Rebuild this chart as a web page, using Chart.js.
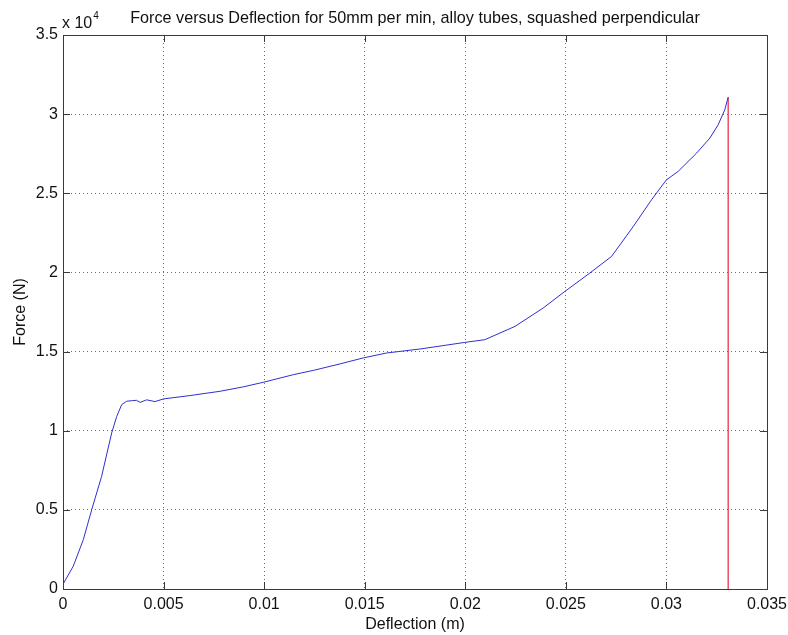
<!DOCTYPE html>
<html>
<head>
<meta charset="utf-8">
<title>Force versus Deflection</title>
<script src="https://cdn.jsdelivr.net/npm/chart.js@4.4.1/dist/chart.umd.min.js"></script>
<style>
  html, body { margin: 0; padding: 0; background: #fff; }
  #wrap { width: 788px; height: 635px; position: relative; }
</style>
</head>
<body>
<div id="wrap"><canvas id="c" width="788" height="635"></canvas></div>
<script>
// Measured deflection (m) and force (N) for the squashed alloy tube
const deflection = [0, 0.00051, 0.00101, 0.00143, 0.00192, 0.00242, 0.00267, 0.00292, 0.00316, 0.00345,
  0.00366, 0.00383, 0.00416, 0.00457, 0.005, 0.00631, 0.0078, 0.00896, 0.00996, 0.01145,
  0.01244, 0.01377, 0.01493, 0.01609, 0.01675, 0.01774, 0.01998, 0.02097, 0.02247, 0.02387,
  0.02495, 0.02619, 0.02727, 0.02835, 0.02926, 0.03, 0.03058, 0.0315, 0.03216, 0.03257,
  0.0329, 0.03307];
const force = [300, 1440, 3120, 5020, 7120, 9860, 10900, 11650, 11860, 11900,
  11920, 11790, 11950, 11840, 12010, 12220, 12490, 12770, 13060, 13540,
  13810, 14220, 14600, 14910, 15010, 15160, 15580, 15750, 16590, 17750,
  18800, 19960, 21010, 22900, 24590, 25850, 26380, 27540, 28490, 29320,
  30270, 31070];

// Failure marker: vertical line at the final deflection
const failureDeflection = [0.03307, 0.03307];
const failureForce = [0, 31070];

// Axis tick labels (force shown in units of 10^4 N)
const xTickLabels = ['0', '0.005', '0.01', '0.015', '0.02', '0.025', '0.03', '0.035'];
const yTickLabels = ['0', '0.5', '1', '1.5', '2', '2.5', '3', '3.5'];

const chartTitle = 'Force versus Deflection for 50mm per min, alloy tubes, squashed perpendicular';

const FONT = 'Arial, "Liberation Sans", Helvetica, sans-serif';
const TEXT = '#111';
const FRAME = '#3a3a3a';

const toPoints = (xs, ys) => xs.map((x, i) => ({ x: x, y: ys[i] }));

// Box around the plot with inward tick marks on all four sides,
// the title centred over the plot area, and the axis exponent label
const frame = {
  id: 'frame',
  beforeDatasetsDraw(chart) {
    const { ctx, chartArea: a, scales: { x, y } } = chart;
    const L = 7;
    ctx.save();
    ctx.strokeStyle = FRAME;
    ctx.lineWidth = 1;
    ctx.beginPath();
    x.ticks.forEach(t => {
      const px = Math.round(x.getPixelForValue(t.value)) + 0.5;
      ctx.moveTo(px, a.bottom); ctx.lineTo(px, a.bottom - L);
      ctx.moveTo(px, a.top); ctx.lineTo(px, a.top + L);
    });
    y.ticks.forEach(t => {
      const py = Math.round(y.getPixelForValue(t.value)) + 0.5;
      ctx.moveTo(a.left, py); ctx.lineTo(a.left + L, py);
      ctx.moveTo(a.right, py); ctx.lineTo(a.right - L, py);
    });
    ctx.stroke();
    ctx.strokeRect(Math.round(a.left) + 0.5, Math.round(a.top) + 0.5,
      Math.round(a.right - a.left), Math.round(a.bottom - a.top));
    ctx.restore();
  },
  afterDraw(chart) {
    const { ctx, chartArea: a } = chart;
    ctx.save();
    ctx.fillStyle = TEXT;
    ctx.textBaseline = 'alphabetic';
    ctx.font = '16.2px ' + FONT;
    ctx.textAlign = 'center';
    ctx.fillText(chartTitle, (a.left + a.right) / 2, 23);
    ctx.font = '16px ' + FONT;
    ctx.textAlign = 'left';
    ctx.fillText('x 10', a.left - 1, 28);
    const w = ctx.measureText('x 10').width;
    ctx.font = '10px ' + FONT;
    ctx.fillText('4', a.left - 1 + w + 1, 19);
    ctx.restore();
  }
};

new Chart(document.getElementById('c'), {
  type: 'scatter',
  data: {
    datasets: [
      {
        label: 'Force',
        data: toPoints(deflection, force),
        showLine: true,
        borderColor: '#2f2fd0',
        borderWidth: 1,
        pointRadius: 0,
        tension: 0,
        fill: false
      },
      {
        label: 'Failure',
        data: toPoints(failureDeflection, failureForce),
        showLine: true,
        borderColor: '#e8223e',
        borderWidth: 1.2,
        pointRadius: 0,
        fill: false
      }
    ]
  },
  plugins: [frame],
  options: {
    responsive: false,
    animation: false,
    events: [],
    layout: { padding: { left: 0, right: 21, top: 35, bottom: 0 } },
    plugins: {
      legend: { display: false },
      tooltip: { enabled: false },
      title: { display: false }
    },
    scales: {
      x: {
        type: 'linear',
        min: 0,
        max: 0.035,
        afterFit(s) { s.height = 46; s.paddingLeft = 0; s.paddingRight = 0; },
        ticks: {
          stepSize: 0.005,
          autoSkip: false,
          maxRotation: 0,
          padding: 6,
          color: TEXT,
          font: { family: FONT, size: 16 },
          callback: (v, i) => xTickLabels[i]
        },
        grid: { color: 'rgba(60,60,60,0.75)', lineWidth: 1, drawTicks: false },
        border: { display: false, dash: [1, 3] },
        title: {
          display: true,
          text: 'Deflection (m)',
          color: TEXT,
          font: { family: FONT, size: 16 },
          padding: { top: 0, bottom: 1 }
        }
      },
      y: {
        type: 'linear',
        min: 0,
        max: 35000,
        afterFit(s) { s.width = 63; s.paddingTop = 0; s.paddingBottom = 0; },
        ticks: {
          stepSize: 5000,
          autoSkip: false,
          padding: 5,
          color: TEXT,
          font: { family: FONT, size: 16 },
          callback: (v, i) => yTickLabels[i]
        },
        grid: { color: 'rgba(60,60,60,0.75)', lineWidth: 1, drawTicks: false },
        border: { display: false, dash: [1, 3] },
        title: {
          display: true,
          text: 'Force (N)',
          color: TEXT,
          font: { family: FONT, size: 16 },
          padding: { top: 11, bottom: 0 }
        }
      }
    }
  }
});
</script>
</body>
</html>
